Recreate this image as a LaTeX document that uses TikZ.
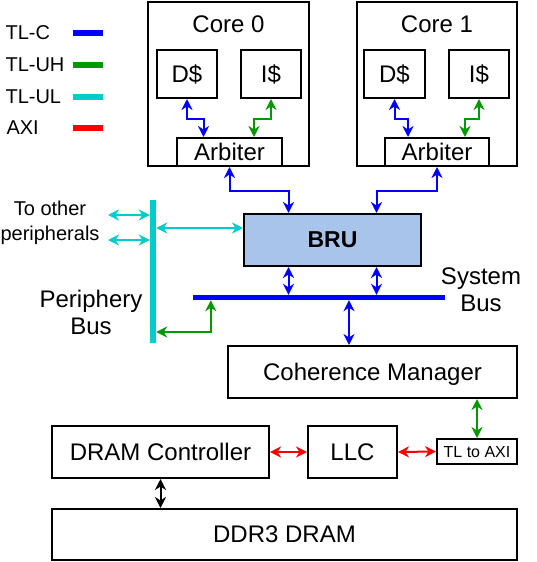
\documentclass[tikz,border=0pt]{standalone}
\usepackage{fontspec}
\setmainfont{Liberation Sans}
\usepackage{xcolor}
\usetikzlibrary{arrows.meta}

\definecolor{cblue}{HTML}{0000FF}
\definecolor{cgreen}{HTML}{009900}
\definecolor{ccyan}{HTML}{00CCCC}
\definecolor{cred}{HTML}{FF0000}
\definecolor{brufill}{HTML}{A9C4EB}

\begin{document}
\begin{tikzpicture}[x=1pt, y=-1pt,
  box/.style={draw, line width=2pt, fill=white, inner sep=0pt, text depth=0pt, font=\fontsize{24}{28}\selectfont},
  bus/.style={inner sep=0pt, draw=none},
  link/.style={line width=2pt, {Stealth[length=11pt,width=11pt,inset=3.5pt]}-{Stealth[length=11pt,width=11pt,inset=3.5pt]}},
  txt/.style={align=center, font=\fontsize{24}{27}\selectfont},
  leg/.style={anchor=west, font=\fontsize{20}{24}\selectfont}]
\useasboundingbox (0,0) rectangle (536,562);

% legend
\node [leg] (legc) at (2,33) {TL-C};
\node [leg] (leguh) at (2,65) {TL-UH};
\node [leg] (legul) at (2,97) {TL-UL};
\node [leg] (legaxi) at (3,128) {AXI};
\draw [cblue, line width=6pt] (73,33) -- (103,33);
\draw [cgreen, line width=6pt] (73,65) -- (103,65);
\draw [ccyan, line width=6pt] (73,97) -- (103,97);
\draw [cred, line width=6pt] (73,128) -- (103,128);

% cores
\node [box, minimum width=161, minimum height=164] (core0) at (228.5,84) {};
\node [box, minimum width=160, minimum height=164] (core1) at (437,84) {};
\node [txt] (core0l) at (228.5,24) {Core 0};
\node [txt] (core1l) at (437,24) {Core 1};
\node [box, minimum width=60, minimum height=48] (d0) at (187,74) {D\$};
\node [box, minimum width=60, minimum height=48] (i0) at (271,74) {I\$};
\node [box, minimum width=61, minimum height=48] (d1) at (394.5,74) {D\$};
\node [box, minimum width=60, minimum height=48] (i1) at (479,74) {I\$};
\node [box, minimum width=105, minimum height=28] (arb0) at (229.5,152) {Arbiter};
\node [box, minimum width=104, minimum height=28] (arb1) at (437,152) {Arbiter};
\draw [link, cblue] (d0.south) -- ++(0,20) -| ([xshift=-26]arb0.north);
\draw [link, cgreen] (i0.south) -- ++(0,20) -| ([xshift=24.5]arb0.north);
\draw [link, cblue] (d1.south) -- ++(0,20) -| ([xshift=-29]arb1.north);
\draw [link, cgreen] (i1.south) -- ++(0,20) -| ([xshift=28]arb1.north);

% BRU and buses
\node [box, fill=brufill, minimum width=177, minimum height=52, font=\fontsize{23}{26}\selectfont\bfseries] (bru) at (332.5,240) {BRU};
\draw [link, cblue] (arb0.south) -- ++(0,24) -| ([xshift=-44]bru.north);
\draw [link, cblue] (arb1.south) -- ++(0,24) -| ([xshift=44]bru.north);
\node [bus, fill=cblue, minimum width=252, minimum height=5] (sysbus) at (319,297.5) {};
\node [bus, fill=ccyan, minimum width=6, minimum height=143] (pbus) at (153,271.5) {};
\node [txt] (syslabel) at (481,289.5) {System\\Bus};
\node [txt] (plabel) at (91,312) {Periphery\\Bus};
\coordinate (bruA) at ([xshift=-44]bru.south);
\coordinate (bruB) at ([xshift=44]bru.south);
\draw [link, cblue] (bruA) -- (bruA |- sysbus.north);
\draw [link, cblue] (bruB) -- (bruB |- sysbus.north);

% periphery side
\node [align=center, font=\fontsize{20}{25}\selectfont] (other) at (50,223) {To other\\peripherals};
\coordinate (oth1) at (108,215);
\coordinate (oth2) at (108,240);
\draw [link, ccyan] (oth1) -- (oth1 -| pbus.west);
\draw [link, ccyan] (oth2) -- (oth2 -| pbus.west);
\coordinate (pb) at ([yshift=12]bru.west);
\draw [link, ccyan] (pb -| pbus.east) -- (pb);
\coordinate (sg) at ([xshift=18]sysbus.south west);
\coordinate (pg) at ([yshift=-60.5]pbus.east);
\draw [link, cgreen] (sg) |- (pg);

% memory side
\node [box, minimum width=289, minimum height=52] (cm) at (372.5,372) {Coherence Manager};
\coordinate (cmin) at ([xshift=-23.5]cm.north);
\draw [link, cblue] (cmin) -- (cmin |- sysbus.south);
\node [box, minimum width=80, minimum height=25, font=\fontsize{16}{19}\selectfont] (tlaxi) at (477,451.5) {TL to AXI};
\node [box, minimum width=89, minimum height=52] (llc) at (352.5,452) {LLC};
\node [box, minimum width=217, minimum height=52] (dramc) at (160.5,452) {DRAM Controller};
\node [box, minimum width=465, minimum height=51] (ddr) at (284.5,534.5) {DDR3 DRAM};
\draw [link, cgreen] (cm.south -| tlaxi.north) -- (tlaxi.north);
\draw [link, cred] (llc.east) -- (tlaxi.west);
\draw [link, cred] (dramc.east) -- (llc.west);
\draw [link, black] (dramc.south) -- (dramc.south |- ddr.north);
\end{tikzpicture}
\end{document}
